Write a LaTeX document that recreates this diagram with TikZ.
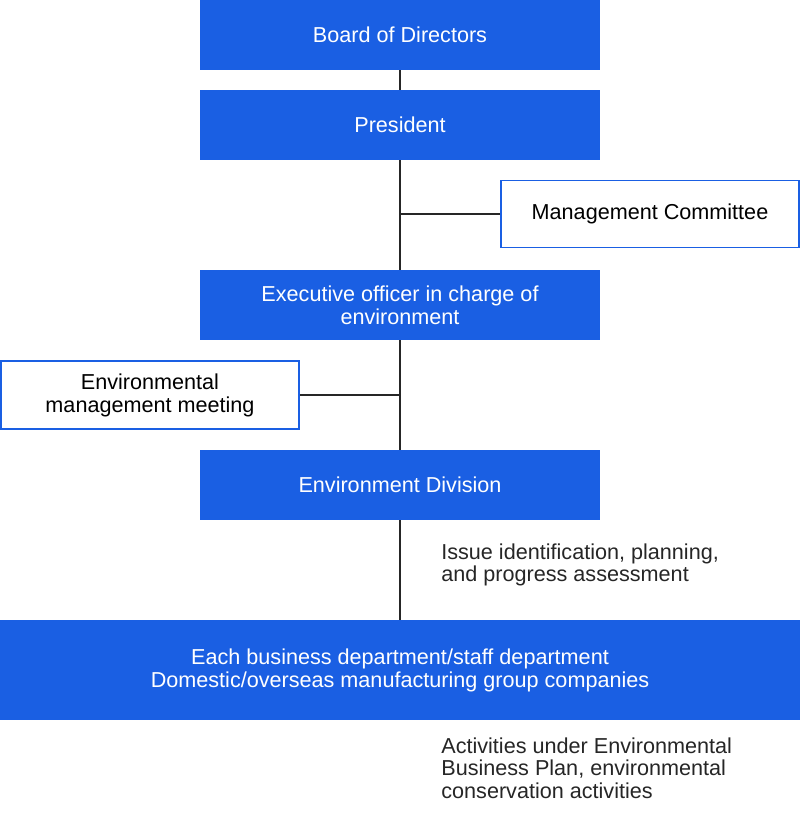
\documentclass[tikz,border=0pt]{standalone}
\usepackage{fontspec}
\setmainfont{Liberation Sans}
\begin{document}
\begin{tikzpicture}[x=0.02cm,y=-0.02cm,
  bluebox/.style={fill=blu,draw=none,text=white,inner sep=0pt,align=center,font=\fontsize{12.3}{13}\selectfont},
  whitebox/.style={fill=white,draw=blu,line width=1pt,inner sep=0pt,align=center,font=\fontsize{12.3}{13}\selectfont},
  note/.style={anchor=north west,align=left,inner sep=0pt,font=\fontsize{12.3}{13}\selectfont,text=black!85},
  link/.style={draw=black!85,line width=1pt}]
\definecolor{blu}{HTML}{1A5FE3}
\useasboundingbox (0,0) rectangle (800,820);
\node[bluebox,minimum width=400*0.02cm,minimum height=70*0.02cm] (board) at (400,35) {Board of Directors};
\node[bluebox,minimum width=400*0.02cm,minimum height=70*0.02cm] (pres) at (400,125) {President};
\node[whitebox,minimum width=298*0.02cm,minimum height=67*0.02cm] (mc) at (650,214) {Management Committee};
\node[bluebox,minimum width=400*0.02cm,minimum height=70*0.02cm] (exec) at (400,305) {Executive officer in charge of\\environment};
\node[whitebox,minimum width=298*0.02cm,minimum height=68*0.02cm] (meet) at (150,395) {Environmental\\management meeting};
\node[bluebox,minimum width=400*0.02cm,minimum height=70*0.02cm] (div) at (400,485) {Environment Division};
\node[bluebox,minimum width=800*0.02cm,minimum height=100*0.02cm] (biz) at (400,670) {Each business department/staff department\\Domestic/overseas manufacturing group companies};
\node[note] (n1) at (441,543) {Issue identification, planning,\\and progress assessment};
\node[note] (n2) at (441,737) {Activities under Environmental\\Business Plan, environmental\\conservation activities};
\begin{scope}[on background layer/.style={}]
\draw[link] (board.south) -- (pres.north);
\draw[link] (pres.south) -- (exec.north);
\draw[link] (exec.south) -- (div.north);
\draw[link] (div.south) -- (biz.north);
\draw[link] (mc.west) -- (mc.west -| pres.south);
\draw[link] (meet.east) -- (meet.east -| exec.south);
\end{scope}
\end{tikzpicture}
\end{document}
